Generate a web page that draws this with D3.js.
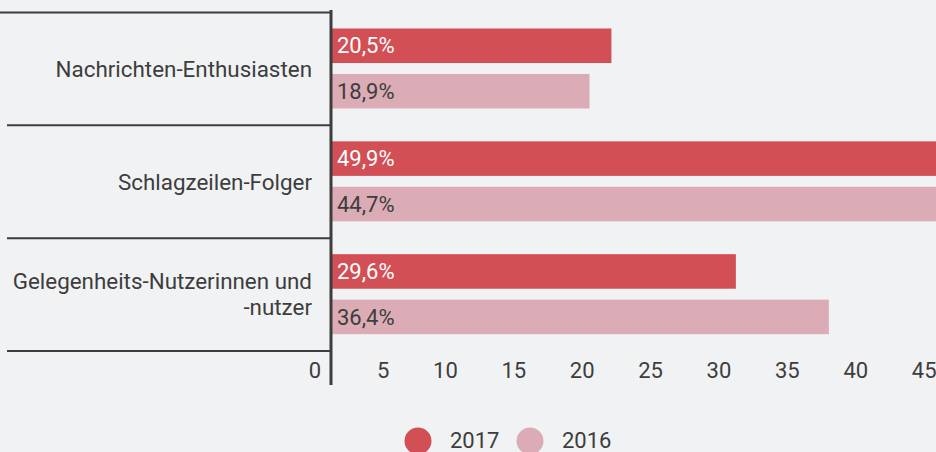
<!DOCTYPE html>
<html>
<head>
<meta charset="utf-8">
<script src="https://d3js.org/d3.v7.min.js"></script>
<style>
body { margin:0; background:#f1f2f4; }
svg { display:block; font-family: Roboto, "Noto Sans", sans-serif; }
</style>
</head>
<body>
<svg width="936" height="452"></svg>
<script>
var categories = ["Nachrichten-Enthusiasten", "Schlagzeilen-Folger", "Gelegenheits-Nutzerinnen und -nutzer"];
var catLines = [["Nachrichten-Enthusiasten"], ["Schlagzeilen-Folger"], ["Gelegenheits-Nutzerinnen und", "-nutzer"]];
var series = ["2017", "2016"];
var values2017 = [20.5, 49.9, 29.6];
var values2016 = [18.9, 44.7, 36.4];
var ticks = [0, 5, 10, 15, 20, 25, 30, 35, 40, 45];
var colors = ["#d14f55", "#dbacb5"];

var svg = d3.select("svg");
var ink = "#3d3d3d";
var fs = 22;

var x = d3.scaleLinear().domain([0, 45]).range([331, 946.5]);
var y = d3.scaleBand().domain(categories).range([12.5, 351]);
var yi = d3.scaleBand().domain(series).range([16, 96]).paddingInner(0.24);
var color = d3.scaleOrdinal().domain(series).range(colors);

var rows = categories.map(function(c, i) {
  return { cat: c, lines: catLines[i], vals: [
    { s: "2017", v: values2017[i] }, { s: "2016", v: values2016[i] } ] };
});

// separators
svg.selectAll("line.sep")
  .data(categories.map(function(c) { return y(c); }).concat([y.range()[1]]))
  .enter().append("line")
    .attr("x1", function(d, i) { return i == 0 ? 0 : 7; })
    .attr("x2", 331)
    .attr("y1", function(d) { return d; })
    .attr("y2", function(d) { return d; })
    .attr("stroke", ink)
    .attr("stroke-width", 2);

var g = svg.selectAll("g.row").data(rows).enter().append("g")
  .attr("transform", function(d) { return "translate(0," + y(d.cat) + ")"; });

g.selectAll("rect").data(function(d) { return d.vals; }).enter().append("rect")
  .attr("x", x(0))
  .attr("y", function(d) { return yi(d.s); })
  .attr("width", function(d) { return x(d.v) - x(0); })
  .attr("height", yi.bandwidth())
  .attr("fill", function(d) { return color(d.s); });

g.selectAll("text.val").data(function(d) { return d.vals; }).enter().append("text")
  .attr("x", x(0) + 6)
  .attr("y", function(d) { return yi(d.s) + yi.bandwidth() / 2; })
  .attr("dy", "0.35em")
  .attr("font-size", fs)
  .attr("fill", function(d) { return d.s == "2017" ? "#fff" : ink; })
  .text(function(d) { return String(d.v).replace(".", ",") + "%"; });

g.each(function(d) {
  var n = d.lines.length;
  var t = d3.select(this).append("text")
    .attr("text-anchor", "end")
    .attr("font-size", 22.4)
    .attr("fill", ink);
  d.lines.forEach(function(l, k) {
    t.append("tspan")
      .attr("x", 312)
      .attr("y", y.bandwidth() / 2 + (k - (n - 1) / 2) * 26)
      .attr("dy", "0.35em")
      .text(l);
  });
});

// axis
svg.append("line")
  .attr("x1", x(0)).attr("x2", x(0))
  .attr("y1", 10).attr("y2", 385)
  .attr("stroke", ink).attr("stroke-width", 3);

svg.selectAll("text.tick").data(ticks).enter().append("text")
  .attr("x", function(d) { return x(d) - 10; })
  .attr("y", 378)
  .attr("text-anchor", "end")
  .attr("font-size", fs)
  .attr("fill", ink)
  .text(function(d) { return d; });

// legend
var leg = svg.selectAll("g.leg").data(series).enter().append("g")
  .attr("transform", function(d, i) { return "translate(" + (418 + i * 112) + ",441)"; });
leg.append("circle").attr("r", 13.5).attr("fill", function(d) { return color(d); });
leg.append("text")
  .attr("x", 32).attr("dy", "0.3em")
  .attr("font-size", fs)
  .attr("fill", ink)
  .text(function(d) { return d; });
</script>
</body>
</html>
